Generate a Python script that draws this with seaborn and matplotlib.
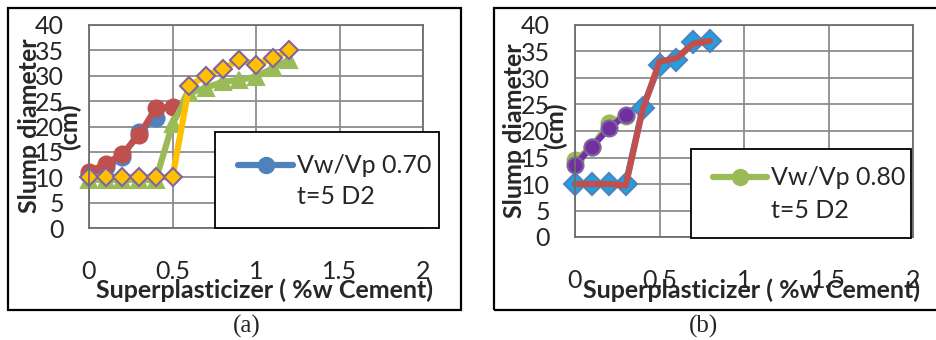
import matplotlib
matplotlib.use("Agg")
import matplotlib.pyplot as plt
import seaborn as sns
import pandas as pd
from matplotlib.patches import Rectangle

# panel (a): Vw/Vp 0.70
a_x_short = [0, 0.1, 0.2, 0.3, 0.4]
a_blue = [10.5, 12.0, 14.0, 19.0, 21.6]
a_x_red = [0, 0.1, 0.2, 0.3, 0.4, 0.5]
a_red = [11.1, 12.6, 14.6, 18.3, 23.6, 23.9]
a_x_long = [0, 0.1, 0.2, 0.3, 0.4, 0.5, 0.6, 0.7, 0.8, 0.9, 1.0, 1.1, 1.2]
a_green = [9.5, 9.5, 9.5, 9.5, 9.5, 20.5, 26.6, 27.6, 28.8, 29.2, 29.8, 31.5, 33.1]
a_yellow = [10, 10, 10, 10, 10, 10, 28.0, 30.0, 31.4, 33.1, 32.2, 33.5, 35.0]

# panel (b): Vw/Vp 0.80
b_x_short = [0, 0.1, 0.2, 0.3]
b_green = [14.5, 17.0, 21.5, 22.8]
b_purple = [13.6, 17.0, 20.5, 23.0]
b_x_long = [0, 0.1, 0.2, 0.3, 0.4, 0.5, 0.6, 0.7, 0.8]
b_blue = [10, 10, 10, 10, 24.3, 32.5, 33.4, 36.8, 37.0]
b_red = [10, 10, 10, 9.7, 24.0, 33.1, 33.7, 36.5, 37.0]

x_ticks = [0, 0.5, 1, 1.5, 2]
y_ticks = [0, 5, 10, 15, 20, 25, 30, 35, 40]

sns.set_style("white")
plt.rcParams['font.family'] = ['Lato', 'DejaVu Sans']

W, H = 936, 340
FS = 18
fig = plt.figure(figsize=(W / 100, H / 100), dpi=100)


def px_axes(x0, y0, x1, y1):
    return fig.add_axes([x0 / W, (H - y1) / H, (x1 - x0) / W, (y1 - y0) / H])


def style_axes(ax):
    ax.set_xlim(0, 2)
    ax.set_ylim(0, 40)
    ax.set_xticks(x_ticks)
    ax.set_xticklabels(['0', '0.5', '1', '1.5', '2'])
    ax.set_yticks(y_ticks)
    ax.grid(True, color='#8c8c8c', linewidth=1.3)
    ax.set_axisbelow(True)
    for s in ax.spines.values():
        s.set_color('#6e6e6e')
        s.set_linewidth(1.3)
    ax.tick_params(axis='y', length=0, pad=18, labelsize=FS)
    ax.tick_params(axis='x', length=0, pad=23, labelsize=FS)
    ax.set_xlabel('Superplasticizer ( %w Cement)', fontsize=FS, fontweight='bold')
    # the wrapped "(cm)" line of the axis title sits apart, as in Excel
    ax.set_ylabel('Slump diameter', fontsize=FS, fontweight='bold')
    ax.xaxis.label.set_va('center')
    ax.yaxis.label.set_va('center')


def unit_line(ax, x, y):
    ax.text(x, y, '(cm)', transform=ax.transAxes, rotation=90, fontsize=FS,
            fontweight='bold', ha='center', va='center', zorder=3)


def draw(ax, x, y, color, marker, ms, mfc, mec, lw=4.5):
    df = pd.DataFrame({'x': x, 'y': y})
    sns.lineplot(data=df, x='x', y='y', ax=ax, color=color, linewidth=lw,
                 marker=marker, markersize=ms, markerfacecolor=mfc,
                 markeredgecolor=mec, markeredgewidth=1.5,
                 legend=False, clip_on=False)


def legend_box(ax, bx, by, bw, bh, line_color, hx, hy, tx, t1y, t2y, text1, text2):
    ax.add_patch(Rectangle((bx, by), bw, bh, transform=ax.transAxes, facecolor='white',
                           edgecolor='black', linewidth=1.3, zorder=10, clip_on=False))
    ax.plot([hx, tx - 0.012], [hy, hy], transform=ax.transAxes, color=line_color,
            linewidth=4.5, zorder=11, clip_on=False, solid_capstyle='round')
    ax.plot([(hx + tx - 0.012) / 2], [hy], transform=ax.transAxes, color=line_color,
            marker='o', markersize=11.5, zorder=12, clip_on=False)
    ax.text(tx, t1y, text1, transform=ax.transAxes, fontsize=FS, va='center', zorder=12)
    ax.text(tx, t2y, text2, transform=ax.transAxes, fontsize=FS, va='center', zorder=12)


# outer borders
fig.add_artist(Rectangle((8 / W, (H - 310) / H), 453 / W, 302 / H, transform=fig.transFigure,
                         fill=False, edgecolor='black', linewidth=1.6))
fig.add_artist(Rectangle((494 / W, (H - 310) / H), 520 / W, 302 / H, transform=fig.transFigure,
                         fill=False, edgecolor='black', linewidth=1.6, clip_on=False))

# ---- panel (a)
ax1 = px_axes(89, 25, 423, 228)
style_axes(ax1)
draw(ax1, a_x_short, a_blue, '#4F81BD', 'o', 11.5, '#4F81BD', '#4F81BD')
draw(ax1, a_x_red, a_red, '#C0504D', 'o', 11.5, '#C0504D', '#C0504D')
draw(ax1, a_x_long, a_green, '#9BBB59', '^', 11, '#9BBB59', '#9BBB59')
draw(ax1, a_x_long, a_yellow, '#FFC000', 'D', 9.5, '#FFC000', '#8064A2')
ax1.xaxis.set_label_coords(0.524, -0.305)
ax1.yaxis.set_label_coords(-0.177, 0.502)
unit_line(ax1, -0.060, 0.50)
legend_box(ax1, 0.377, 0.0, 0.671, 0.473, '#4F81BD', 0.446, 0.310, 0.623, 0.310, 0.153,
           'Vw/Vp 0.70', 't=5 D2')

# ---- panel (b)
ax2 = px_axes(575, 25, 913, 237)
style_axes(ax2)
draw(ax2, b_x_short, b_green, '#9BBB59', 'o', 11.5, '#9BBB59', '#9BBB59')
draw(ax2, b_x_short, b_purple, '#7030A0', 'o', 11.5, '#7030A0', '#8064A2')
draw(ax2, b_x_long, b_blue, '#4F81BD', 'D', 11, '#1FA0E0', '#4F81BD')
draw(ax2, b_x_long, b_red, '#C0504D', None, 0, None, None)
ax2.xaxis.set_label_coords(0.521, -0.25)
ax2.yaxis.set_label_coords(-0.178, 0.50)
unit_line(ax2, -0.059, 0.524)
legend_box(ax2, 0.343, -0.005, 0.651, 0.420, '#9BBB59', 0.408, 0.283, 0.580, 0.283, 0.127,
           'Vw/Vp 0.80', 't=5 D2')

# captions
fig.text(247 / W, (H - 326) / H, '(a)', family='Liberation Serif', fontsize=18,
         ha='center', va='center')
fig.text(704 / W, (H - 326) / H, '(b)', family='Liberation Serif', fontsize=18,
         ha='center', va='center')

fig.savefig('out.png', dpi=100)
